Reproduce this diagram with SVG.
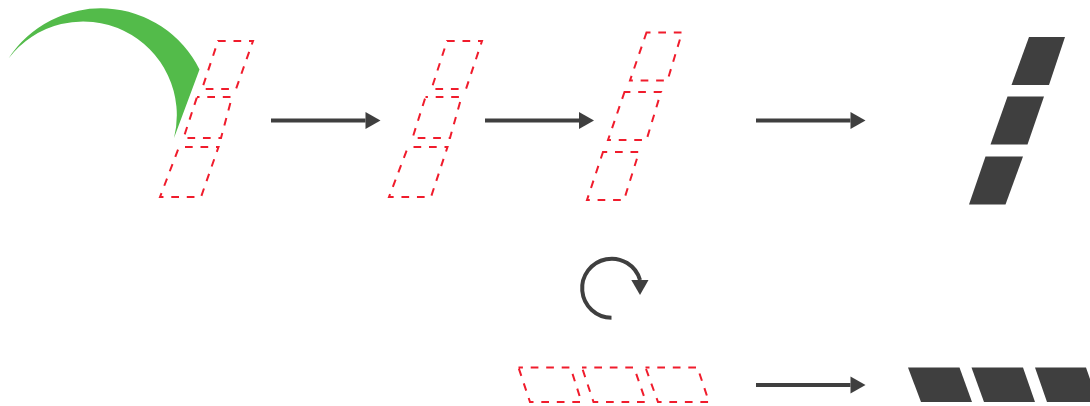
<svg xmlns="http://www.w3.org/2000/svg" width="1090" height="406" viewBox="0 0 1090 406">
<style>
.d{fill:none;stroke:#f01c2c;stroke-width:2;stroke-dasharray:7.7 7.8}
.s{fill:#3f3f3f;stroke:none}
.c{fill:none;stroke:#3f3f3f;stroke-width:4}
</style>
<defs>
<marker id="h" markerUnits="userSpaceOnUse" markerWidth="15" markerHeight="17" refX="0" refY="8.5" orient="auto" overflow="visible">
<path d="M0 0L15 8.5L0 17Z" fill="#3f3f3f"/>
</marker>
</defs>
<rect width="1090" height="406" fill="#fff"/>
<g id="green-arc"><path d="M8.500 58.500A110.100 110.100 0 0 1 199.500 69.500L174 138A93.700 93.700 0 0 0 8.500 58.500Z" fill="#53bb4a"/></g>
<g id="set1">
<polygon class="d" points="218,41 253,41 236,89 202,89"/>
<polygon class="d" stroke-dashoffset="5.200" points="197,97 232,97 221,138 183.500,138"/>
<polygon class="d" stroke-dashoffset="9.500" points="179,147 218.500,147 201,197 160,197"/>
</g>
<g id="set2">
<polygon class="d" points="447,41 482,41 466,89 431.500,89"/>
<polygon class="d" stroke-dashoffset="5.300" points="425.500,97 461.500,97 450,138 412.500,138"/>
<polygon class="d" stroke-dashoffset="10" points="408,147 447.500,147 431,197 389,197"/>
</g>
<g id="set3">
<polygon class="d" stroke-dashoffset="3.700" points="646.500,32.500 682,32.500 667.500,80.500 630,80.500"/>
<polygon class="d" stroke-dashoffset="1.800" points="624.500,92 661,92 646.500,140 608,140"/>
<polygon class="d" stroke-dashoffset="3.500" points="603,152 639,152 624,200 587,200"/>
</g>
<g id="solid-vertical">
<polygon class="s" points="1029,37 1065,37 1049,85 1011.500,85"/>
<polygon class="s" points="1007.500,96.500 1044,96.500 1027.500,144.500 990.500,144.500"/>
<polygon class="s" points="985.500,156.500 1023,156.500 1005.500,204.500 969,204.500"/>
</g>
<g id="set4">
<polygon class="d" stroke-dashoffset="3.300" points="518.500,367.500 570.500,367.500 581.500,402 530,402"/>
<polygon class="d" stroke-dashoffset="3.200" points="582,367.500 634,367.500 646,402 593.500,402"/>
<polygon class="d" stroke-dashoffset="3.700" points="645.500,367.500 697.500,367.500 709,402 658,402"/>
</g>
<g id="solid-horizontal">
<polygon class="s" points="908,367.500 959.500,367.500 972,402 921,402"/>
<polygon class="s" points="971.500,367.500 1023,367.500 1035,402 984,402"/>
<polygon class="s" points="1035,367.500 1086,367.500 1098,402 1047,402"/>
</g>
<g id="connectors">
<path class="c" d="M271 120.500H365.500" marker-end="url(#h)"/>
<path class="c" d="M485 120.500H579" marker-end="url(#h)"/>
<path class="c" d="M756 120.500H850.500" marker-end="url(#h)"/>
<path class="c" d="M756 385H850.500" marker-end="url(#h)"/>
<path class="c" d="M611.500 317.700A29.500 29.500 0 1 1 640 280"/>
<polygon class="s" points="631.300,280 648.500,280 640,295"/>
</g>
</svg>
